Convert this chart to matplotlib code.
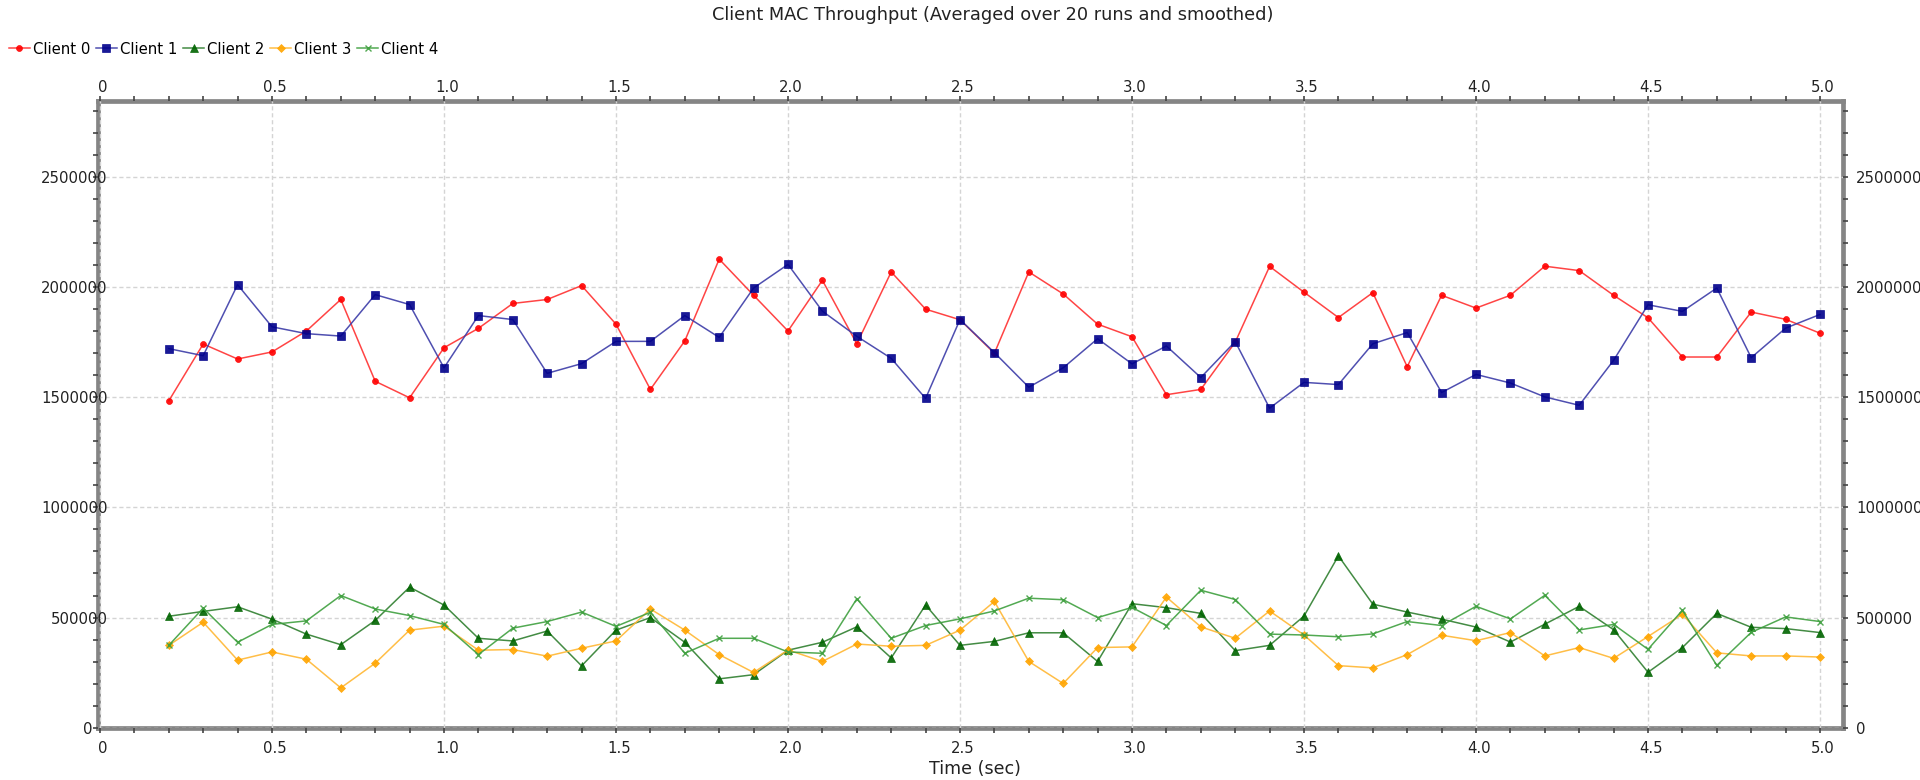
import numpy as np
import matplotlib
matplotlib.use("Agg")
from matplotlib import pyplot as plt
from matplotlib.ticker import MultipleLocator, FixedLocator
from matplotlib.transforms import ScaledTranslation

# time stamps (sec)
t = [0.2, 0.3, 0.4, 0.5, 0.6, 0.7, 0.8, 0.9, 1.0, 1.1, 1.2, 1.3, 1.4, 1.5, 1.6, 1.7,
     1.8, 1.9, 2.0, 2.1, 2.2, 2.3, 2.4, 2.5, 2.6, 2.7, 2.8, 2.9, 3.0, 3.1, 3.2, 3.3,
     3.4, 3.5, 3.6, 3.7, 3.8, 3.9, 4.0, 4.1, 4.2, 4.3, 4.4, 4.5, 4.6, 4.7, 4.8, 4.9, 5.0]

client0 = [1483000, 1741000, 1673000, 1705000, 1800000, 1943000, 1572000, 1497000,
           1724000, 1812000, 1925000, 1943000, 2006000, 1831000, 1535000, 1755000,
           2126000, 1962000, 1800000, 2030000, 1742000, 2068000, 1899000, 1851000,
           1699000, 2068000, 1968000, 1831000, 1774000, 1511000, 1535000, 1749000,
           2093000, 1976000, 1861000, 1974000, 1638000, 1962000, 1904000, 1962000,
           2094000, 2074000, 1962000, 1860000, 1682000, 1682000, 1886000, 1853000, 1790000]
client1 = [1720000, 1688000, 2010000, 1819000, 1788000, 1777000, 1965000, 1920000,
           1633000, 1870000, 1852000, 1608000, 1652000, 1753000, 1753000, 1870000,
           1771000, 1995000, 2102000, 1890000, 1776000, 1676000, 1494000, 1852000,
           1702000, 1545000, 1633000, 1765000, 1651000, 1732000, 1589000, 1752000,
           1450000, 1567000, 1557000, 1742000, 1793000, 1521000, 1603000, 1564000,
           1501000, 1463000, 1667000, 1919000, 1889000, 1995000, 1679000, 1813000, 1875000]
client2 = [506000, 528000, 549000, 493000, 425000, 377000, 487000, 638000,
           557000, 406000, 394000, 439000, 281000, 443000, 500000, 388000,
           222000, 241000, 352000, 388000, 458000, 317000, 557000, 374000,
           392000, 431000, 431000, 301000, 563000, 545000, 519000, 350000,
           374000, 507000, 780000, 561000, 525000, 493000, 457000, 389000,
           470000, 551000, 445000, 252000, 364000, 519000, 456000, 450000, 432000]
client3 = [374000, 479000, 307000, 344000, 311000, 181000, 293000, 443000,
           461000, 352000, 355000, 325000, 361000, 394000, 539000, 443000,
           332000, 251000, 353000, 301000, 380000, 370000, 374000, 443000,
           573000, 301000, 201000, 364000, 367000, 593000, 458000, 406000,
           530000, 421000, 282000, 272000, 332000, 420000, 395000, 432000,
           326000, 364000, 315000, 414000, 515000, 340000, 326000, 326000, 321000]
client4 = [374000, 543000, 388000, 469000, 485000, 600000, 539000, 509000,
           469000, 332000, 452000, 482000, 525000, 460000, 524000, 338000,
           406000, 406000, 344000, 338000, 585000, 406000, 464000, 494000,
           530000, 588000, 581000, 500000, 546000, 464000, 624000, 582000,
           425000, 421000, 413000, 426000, 482000, 464000, 551000, 494000,
           601000, 444000, 469000, 356000, 533000, 283000, 433000, 503000, 482000]

names = ["Client 0", "Client 1", "Client 2", "Client 3", "Client 4"]
series = [client0, client1, client2, client3, client4]
y_ticks = [0, 500000, 1000000, 1500000, 2000000, 2500000]

# (line colour, marker colour, marker, marker size)
styles = [
    ("#ff3030", "#ff0000", "o", 4.3),
    ("#3c3ca8", "#00008b", "s", 5.5),
    ("#2f7f2f", "#006400", "^", 5.8),
    ("#ffb733", "#ffa500", "D", 4.0),
    ("#3fa03f", "#3fa03f", "x", 5.0),
]

W, H = 1920, 780
fig = plt.figure(figsize=(W / 100, H / 100), dpi=100)
ax = fig.add_axes([98.3 / W, (H - 727.8) / H, (1843.3 - 98.3) / W, (727.8 - 101.3) / H])

for name, ys, (lc, mc, mk, ms) in zip(names, series, styles):
    ax.plot(t, ys, color=lc, lw=1.1, alpha=0.9, marker=mk, ms=ms,
            mfc=mc, mec=mc, mew=1.0 if mk == "x" else 0.5, label=name)

ax.set_xlim(-0.0049, 5.0677)
ax.set_ylim(0, 2842000)

ax.xaxis.set_major_locator(MultipleLocator(0.5))
ax.xaxis.set_minor_locator(MultipleLocator(0.1))
ax.yaxis.set_major_locator(FixedLocator(y_ticks))
ax.yaxis.set_minor_locator(MultipleLocator(100000))
ax.xaxis.set_major_formatter(lambda v, p: "0" if abs(v) < 1e-9 else f"{v:.1f}")
ax.yaxis.set_major_formatter(lambda v, p: f"{int(round(v))}")

ax.grid(True, which="major", color="#d4d4d4", linestyle=(0, (3, 2)), linewidth=1.0)

for s in ax.spines.values():
    s.set_color("#858585")
    s.set_linewidth(3.4)
    s.set_zorder(1.4)

ax.tick_params(which="both", direction="out", length=3.5, width=1.2, color="#444444",
               labelsize=10.7, labelcolor="#222222",
               top=True, right=True, labeltop=True, labelright=True)
ax.tick_params(axis="x", which="major", pad=3.0)
ax.tick_params(axis="y", which="major", pad=5.6)


def shift(txt, dx, dy):
    txt.set_transform(txt.get_transform() + ScaledTranslation(dx / 100, dy / 100, fig.dpi_scale_trans))


# nudge tick labels to where the original renderer put them
for tk in ax.xaxis.get_major_ticks():
    shift(tk.label1, 3, -3.7)
    shift(tk.label2, 3, -2.4)
for i, tk in enumerate(ax.yaxis.get_major_ticks()):
    shift(tk.label1, 6.4 if i == 0 else 21.9, 0)

ax.set_xlabel("Time (sec)", fontsize=12.6, color="#222222")
ax.xaxis.set_label_coords((975 - 98.3) / (1843.3 - 98.3), -(769 - 727.8) / (727.8 - 101.3))
ax.xaxis.label.set_verticalalignment("center")

fig.text(993 / W, 1 - 15 / H, "Client MAC Throughput (Averaged over 20 runs and smoothed)",
         ha="center", va="center", fontsize=12.8, color="#222222")

fig.legend(loc="center left", bbox_to_anchor=(9 / W, 1 - 49 / H), ncol=5, frameon=False,
           fontsize=10.7, handlelength=1.4, handletextpad=0.2, columnspacing=0.4,
           borderpad=0, borderaxespad=0)

fig.savefig("out.png", dpi=100)
